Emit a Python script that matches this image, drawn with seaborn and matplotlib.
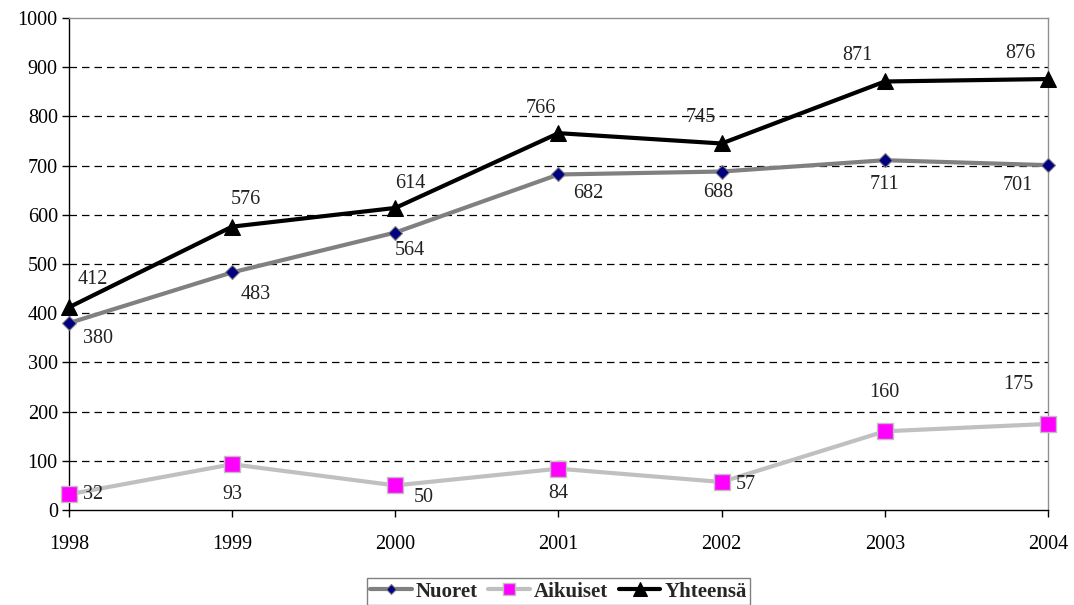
import matplotlib
matplotlib.use("Agg")
import matplotlib.pyplot as plt
import seaborn as sns
import pandas as pd

# Données
vuodet = [1998, 1999, 2000, 2001, 2002, 2003, 2004]
nuoret = [380, 483, 564, 682, 688, 711, 701]
aikuiset = [32, 93, 50, 84, 57, 160, 175]
yhteensa = [412, 576, 614, 766, 745, 871, 876]

df = pd.DataFrame({"vuosi": vuodet, "Nuoret": nuoret,
                   "Aikuiset": aikuiset, "Yhteensä": yhteensa})

sns.set_style("white")
plt.rcParams['font.family'] = ['Liberation Serif', 'DejaVu Serif']

fig = plt.figure(figsize=(10.74, 6.05), dpi=100)
ax = fig.add_axes([0.0642, 0.157, 0.9116, 0.8132])

# Séries
sns.lineplot(data=df, x="vuosi", y="Nuoret", ax=ax, color="#808080", lw=3,
             marker="D", markersize=7, markerfacecolor="#000080",
             markeredgecolor="#808080", markeredgewidth=0.8,
             label="Nuoret", clip_on=False, zorder=3)
sns.lineplot(data=df, x="vuosi", y="Aikuiset", ax=ax, color="#c0c0c0", lw=3,
             marker="s", markersize=11, markerfacecolor="#ff00ff",
             markeredgecolor="#c0c0c0", markeredgewidth=1,
             label="Aikuiset", clip_on=False, zorder=3)
sns.lineplot(data=df, x="vuosi", y="Yhteensä", ax=ax, color="black", lw=3,
             marker="^", markersize=12, markerfacecolor="black",
             markeredgecolor="black",
             label="Yhteensä", clip_on=False, zorder=4)

# Étiquettes de valeurs (décalages en pixels)
off_y = [(24, 28), (14, 27), (15, 24), (-18, 25), (-21, 26), (-27, 26), (-28, 26)]
off_n = [(29, -15), (24, -22), (15, -18), (30, -19), (-3, -21), (0, -24), (-30, -20)]
off_a = [(24, 0), (0, -30), (28, -12), (0, -25), (24, -3), (0, 39), (-30, 39)]
for serie, offs in [(yhteensa, off_y), (nuoret, off_n), (aikuiset, off_a)]:
    for x, v, o in zip(vuodet, serie, offs):
        ax.annotate(str(v), (x, v), xytext=o, textcoords="offset pixels",
                    ha="center", va="center", fontsize=14.5, color="#222222")

ax.set_xlim(1998, 2004)
ax.set_ylim(0, 1000)
ax.set_xticks(vuodet)
ax.set_yticks(range(0, 1001, 100))
ax.set_xlabel("")
ax.set_ylabel("")
ax.tick_params(axis="both", labelsize=14.5, colors="black", length=5,
               direction="out", width=1, left=True, bottom=True)
ax.tick_params(axis="x", pad=13)
ax.tick_params(axis="y", pad=3)

for y in range(100, 1000, 100):
    ax.axhline(y, color="black", lw=0.9, ls=(0, (6, 4)), zorder=1)

ax.spines["left"].set_color("black")
ax.spines["bottom"].set_color("black")
ax.spines["top"].set_color("#909090")
ax.spines["right"].set_color("#909090")
for s in ax.spines.values():
    s.set_linewidth(1)

leg = ax.legend(loc="upper center", bbox_to_anchor=(0.5, -0.118), ncol=3,
                frameon=True, fancybox=False, edgecolor="#606060",
                prop={"weight": "bold", "size": 15}, handlelength=2.0,
                handletextpad=0.2, columnspacing=0.5, borderpad=0.15,
                markerscale=0.8)
leg.get_frame().set_linewidth(1)

fig.savefig("out.png", dpi=100)
